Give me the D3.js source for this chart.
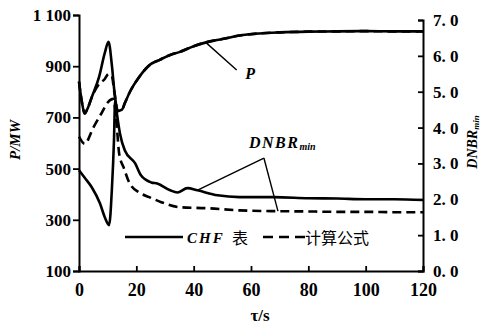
<!DOCTYPE html>
<html>
  <head>
    <meta charset="utf-8">
    <script src="https://d3js.org/d3.v7.min.js"></script>
    <style>
      body { margin: 0; background: #fff; }
      svg { background-color: #fff; }
      .tick text { font-family: "Liberation Serif", serif; font-weight: bold; }
    </style>
  </head>
  <body>
    <script>
      // power P (MW), CHF table run and formula run
      const tP = [0, 1, 2, 3, 4.5, 7, 9, 10.3, 11.5, 12.3, 13.6, 15, 16, 18, 21, 25, 28, 32, 35, 40, 45, 50, 56, 63, 70, 80, 90, 100, 110, 120]
      const pTable = [840, 760, 715, 735, 780, 858, 952, 995, 900, 807, 725, 730, 756, 805, 858, 908, 924, 945, 955, 978, 995, 1006, 1020, 1028, 1032, 1035, 1036, 1037, 1036, 1036]
      const pFormula = [840, 760, 715, 735, 780, 830, 850, 870, 860, 800, 725, 730, 756, 805, 858, 908, 924, 945, 955, 978, 995, 1006, 1020, 1028, 1032, 1035, 1036, 1037, 1036, 1036]

      // DNBRmin, CHF table
      const tD1 = [0, 2, 4.5, 7.3, 9, 10.5, 11.5, 12.2, 12.6, 13.2, 14.3, 16, 19.6, 21.6, 25.2, 27.3, 31.8, 34.3, 37.8, 41.3, 48.3, 56, 68, 80, 90, 100, 110, 120]
      const dnbrTable = [2.81, 2.6, 2.33, 1.89, 1.5, 1.28, 2.33, 3.64, 4.75, 4.4, 3.83, 3.36, 3.0, 2.67, 2.47, 2.44, 2.25, 2.19, 2.31, 2.25, 2.11, 2.06, 2.06, 2.03, 2.02, 2.0, 2.0, 1.98]
      // DNBRmin, formula
      const tD2 = [0, 2, 5, 8, 10, 12, 13.3, 14, 15.7, 17.5, 21, 24.5, 28.7, 35, 45, 56, 68, 80, 90, 100, 110, 120]
      const dnbrFormula = [3.75, 3.55, 4.0, 4.42, 4.7, 4.8, 3.92, 3.28, 2.86, 2.47, 2.19, 2.06, 1.92, 1.78, 1.75, 1.69, 1.67, 1.66, 1.65, 1.65, 1.64, 1.64]

      const xTicks = [0, 20, 40, 60, 80, 100, 120]
      const pTicks = [100, 300, 500, 700, 900, 1100]
      const pTickLabels = ["100", "300", "500", "700", "900", "1 100"]
      const dTicks = [0, 1, 2, 3, 4, 5, 6, 7]
      const dTickLabels = ["0. 0", "1. 0", "2. 0", "3. 0", "4. 0", "5. 0", "6. 0", "7. 0"]

      const w = 485
      const h = 327
      const svg = d3.select("body").append("svg")
        .attr("width", w)
        .attr("height", h)

      const x = d3.scaleLinear().domain([0, 120]).range([79, 423])
      const yP = d3.scaleLinear().domain([100, 1100]).range([271, 15])
      const yD = d3.scaleLinear().domain([0, 7]).range([271, 20])

      // axes
      const xAxis = d3.axisBottom(x).tickValues(xTicks).tickSize(-5).tickPadding(12)
      svg.append("g")
        .attr("transform", "translate(0," + 271 + ")")
        .call(xAxis)
        .call(g => g.selectAll("text").attr("font-size", 18))

      const leftAxis = d3.axisLeft(yP).tickValues(pTicks).tickSize(6).tickPadding(2)
        .tickFormat((d, i) => pTickLabels[i])
      svg.append("g")
        .attr("transform", "translate(" + 79 + ",0)")
        .call(leftAxis)
        .call(g => g.selectAll("text").attr("font-size", 17))

      const rightAxis = d3.axisRight(yD).tickValues(dTicks).tickSize(-5).tickPadding(10)
        .tickFormat((d, i) => dTickLabels[i])
      svg.append("g")
        .attr("transform", "translate(" + 423 + ",0)")
        .call(rightAxis)
        .call(g => g.selectAll("text").attr("font-size", 17))

      svg.selectAll(".domain").attr("stroke-width", 2)
      svg.selectAll(".tick line").attr("stroke-width", 1.8)

      // curves
      const pLine = d3.line().curve(d3.curveMonotoneX)
      const drawSeries = (ts, vs, yScale, dashed) => {
        svg.append("path")
          .attr("d", pLine(ts.map((t, i) => [x(t), yScale(vs[i])])))
          .attr("fill", "none")
          .attr("stroke", "#000")
          .attr("stroke-width", 2.6)
          .attr("stroke-dasharray", dashed ? "9,5" : null)
      }
      drawSeries(tP, pFormula, yP, true)
      drawSeries(tP, pTable, yP, false)
      drawSeries(tD1, dnbrTable, yD, false)
      drawSeries(tD2, dnbrFormula, yD, true)

      // annotations
      const lead = (x1, y1, x2, y2) => svg.append("line")
        .attr("x1", x1).attr("y1", y1).attr("x2", x2).attr("y2", y2)
        .attr("stroke", "#000").attr("stroke-width", 1.4)
      lead(x(44), yP(995), x(55), yP(885))
      svg.append("text")
        .attr("x", x(58)).attr("y", yP(850))
        .attr("font-family", "Liberation Serif").attr("font-style", "italic").attr("font-weight", "bold")
        .attr("font-size", 16)
        .text("P")

      const apexX = x(64.5)
      const apexY = yD(3.15)
      lead(x(41.2), yD(2.25), apexX, apexY)
      lead(apexX, apexY, x(69.4), yD(1.67))
      const dl = svg.append("text")
        .attr("x", 249).attr("y", 148)
        .attr("font-family", "Liberation Serif").attr("font-style", "italic").attr("font-weight", "bold")
        .attr("font-size", 16).attr("letter-spacing", 1.5)
      dl.append("tspan").text("DNBR")
      dl.append("tspan").attr("font-size", 10).attr("dy", 2).attr("letter-spacing", 0).text("min")

      // legend
      svg.append("line").attr("x1", 125).attr("x2", 183).attr("y1", 237).attr("y2", 237)
        .attr("stroke", "#000").attr("stroke-width", 2.6)
      svg.append("text").attr("x", 187).attr("y", 243)
        .attr("font-family", "Liberation Serif").attr("font-style", "italic").attr("font-weight", "bold")
        .attr("font-size", 15).attr("letter-spacing", 2)
        .text("CHF")
      svg.append("text").attr("x", 232).attr("y", 244)
        .attr("font-family", "Noto Sans CJK SC").attr("font-size", 16)
        .text("表")
      svg.append("line").attr("x1", 263).attr("x2", 305).attr("y1", 237).attr("y2", 237)
        .attr("stroke", "#000").attr("stroke-width", 2.6).attr("stroke-dasharray", "10,6")
      svg.append("text").attr("x", 305).attr("y", 244)
        .attr("font-family", "Noto Sans CJK SC").attr("font-size", 16)
        .text("计算公式")

      // axis titles
      svg.append("text")
        .attr("transform", "translate(20,140) rotate(-90)")
        .attr("text-anchor", "middle")
        .attr("font-family", "Liberation Serif").attr("font-style", "italic").attr("font-weight", "bold")
        .attr("font-size", 15)
        .text("P/MW")
      const rt = svg.append("text")
        .attr("transform", "translate(477,142) rotate(-90)")
        .attr("text-anchor", "middle")
        .attr("font-family", "Liberation Serif").attr("font-style", "italic").attr("font-weight", "bold")
        .attr("font-size", 14)
      rt.append("tspan").text("DNBR")
      rt.append("tspan").attr("font-size", 9).attr("dy", 2).text("min")
      svg.append("text")
        .attr("x", 260).attr("y", 321)
        .attr("text-anchor", "middle")
        .attr("font-family", "Liberation Serif").attr("font-weight", "bold")
        .attr("font-size", 17)
        .text("τ/s")
    </script>
  </body>
</html>
